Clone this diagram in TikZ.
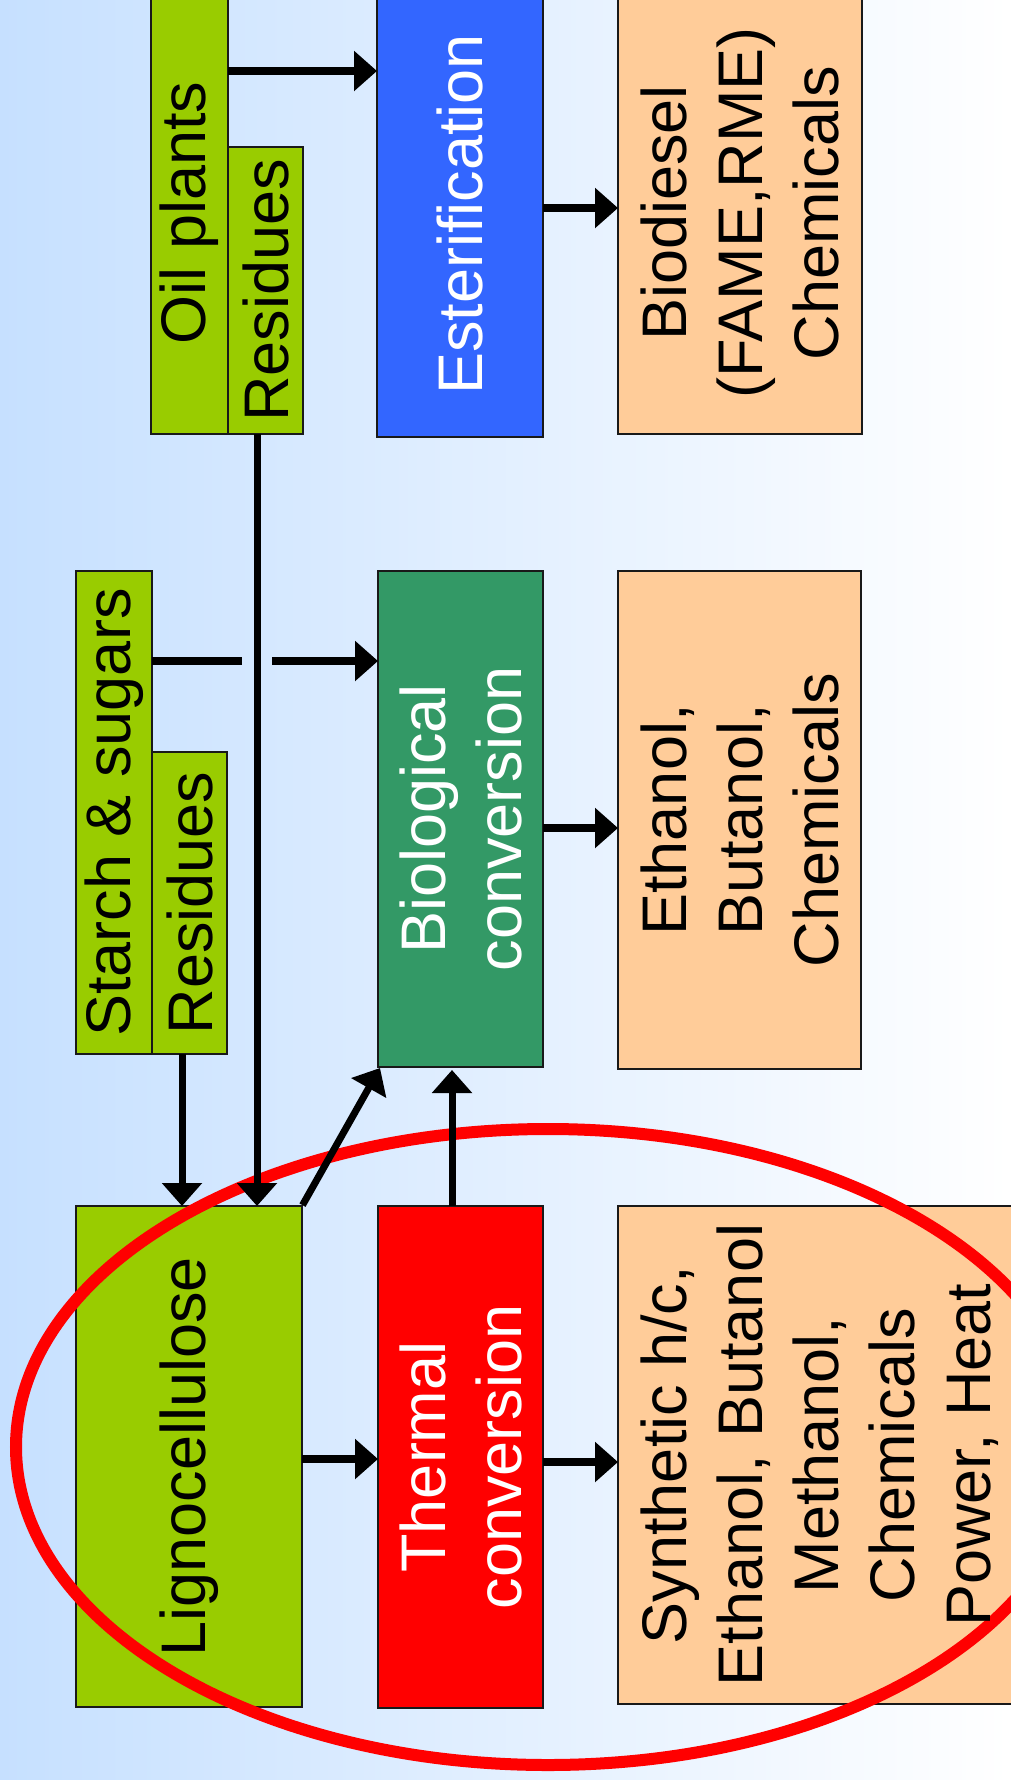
\documentclass[tikz,border=0pt]{standalone}
\usepackage{fontspec}
\setmainfont{Liberation Sans}
\usetikzlibrary{arrows.meta}

\definecolor{bgleft}{RGB}{198,224,255}
\definecolor{lime}{RGB}{153,204,0}
\definecolor{esterblue}{RGB}{51,102,255}
\definecolor{biogreen}{RGB}{51,153,102}
\definecolor{peach}{RGB}{255,204,153}
\definecolor{hotred}{RGB}{255,0,0}

\tikzset{
  box/.style={draw=black!90, line width=2pt, inner sep=0pt, outer sep=0pt, anchor=north west},
  label txt/.style={rotate=90, align=center, inner sep=0pt,
    font=\fontsize{63}{76}\selectfont},
  whitetxt/.style={label txt, text=white},
  flow/.style={line width=8pt, -{Triangle[length=23pt,width=39pt]}},
  thinflow/.style={line width=7pt, -{Triangle[length=23pt,width=39pt]}},
}

% place a box from its top-left corner (x1,y1) to bottom-right (x2,y2), y measured downwards
\newcommand{\boxat}[6]{%
  \node[box, fill=#2, minimum width={(#5-#3)*1pt}, minimum height={(#6-#4)*1pt}]
    (#1) at (#3,-#4) {};}

\begin{document}
\begin{tikzpicture}[x=1pt,y=1pt]
  \useasboundingbox (0,0) rectangle (1010,-1780);
  \shade[left color=bgleft, right color=white] (0,0) rectangle (1010,-1780);

  % feedstocks
  \boxat{oil}{lime}{151}{-8}{228}{434}
  \boxat{oilres}{lime}{228}{147}{303}{434}
  \boxat{starch}{lime}{76}{571}{152}{1054}
  \boxat{stres}{lime}{152}{752}{227}{1054}
  \boxat{lig}{lime}{76}{1206}{302}{1707}

  % conversion routes
  \boxat{est}{esterblue}{377}{-8}{543}{437}
  \boxat{bio}{biogreen}{378}{571}{543}{1067}
  \boxat{therm}{hotred}{378}{1206}{543}{1708}

  % products
  \boxat{bdsl}{peach}{618}{-8}{862}{434}
  \boxat{eth}{peach}{618}{571}{861}{1069}
  \boxat{syn}{peach}{618}{1206}{1030}{1704}

  % highlight ring around the thermal route
  \draw[hotred, line width=12pt] (548,-1447) ellipse [x radius=532, y radius=318];

  % labels
  \node[label txt] (oil-t) at (oil.center) {Oil plants};
  \node[label txt] (oilres-t) at (oilres.center) {Residues};
  \node[label txt] (starch-t) at (starch.center) {Starch \& sugars};
  \node[label txt] (stres-t) at (stres.center) {Residues};
  \node[label txt] (lig-t) at (lig.center) {Lignocellulose};
  \node[whitetxt] (est-t) at (est.center) {Esterification};
  \node[whitetxt] (bio-t) at (bio.center) {Biological\\conversion};
  \node[whitetxt] (therm-t) at (therm.center) {Thermal\\conversion};
  \node[label txt] (bdsl-t) at (bdsl.center) {Biodiesel\\(FAME,RME)\\Chemicals};
  \node[label txt] (eth-t) at (eth.center) {Ethanol,\\Butanol,\\Chemicals};
  \node[label txt] (syn-t) at ([xshift=-4pt]syn.center) {Synthetic h/c,\\Ethanol, Butanol\\Methanol,\\Chemicals\\Power, Heat};

  % connectors
  \draw[flow] (oil.east |- 0,-71) -- (est.west |- 0,-71);
  \draw[flow] (est.east |- 0,-208) -- (bdsl.west |- 0,-208);
  \draw[line width=8pt] (starch.east |- 0,-661) -- (242,-661);
  \draw[flow] (272,-661) -- (bio.west |- 0,-661);
  \draw[flow] (bio.east |- 0,-828) -- (eth.west |- 0,-828);
  \draw[thinflow] (oilres.south -| 257,0) -- (lig.north -| 257,0);
  \draw[thinflow] (stres.south -| 182,0) -- (lig.north -| 182,0);
  \draw[thinflow, shorten <=1pt] (lig.north east) -- ([xshift=2pt,yshift=-1pt]bio.south west);
  \draw[thinflow, shorten >=3pt] (therm.north -| 452,0) -- (bio.south -| 452,0);
  \draw[flow] (lig.east |- 0,-1459) -- (therm.west |- 0,-1459);
  \draw[flow] (therm.east |- 0,-1462) -- (syn.west |- 0,-1462);
\end{tikzpicture}
\end{document}
